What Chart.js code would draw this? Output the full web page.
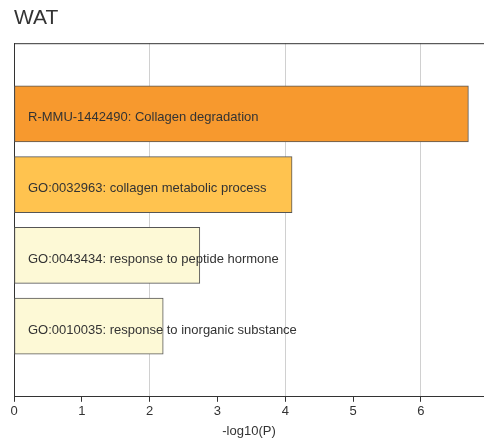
<!DOCTYPE html>
<html>
<head>
<meta charset="utf-8">
<script src="https://cdn.jsdelivr.net/npm/chart.js@4"></script>
<style>
  body { margin: 0; background: #fff; }
  #wrap { width: 484px; height: 444px; }
</style>
</head>
<body>
<div id="wrap"><canvas id="chart"></canvas></div>
<script>
// data
const terms = [
    'R-MMU-1442490: Collagen degradation',
    'GO:0032963: collagen metabolic process',
    'GO:0043434: response to peptide hormone',
    'GO:0010035: response to inorganic substance'
];
const logP = [6.70, 4.10, 2.74, 2.20];
const barColors = ['#F7992E', '#FFC34F', '#FDF9D6', '#FDF9D6'];
const xTicks = [0, 1, 2, 3, 4, 5, 6];
const xMax = 6.93;

// empty slots top and bottom so the bars sit like the original
const labels = [''].concat(terms, ['']);
const values = [null].concat(logP, [null]);
const colors = ['#fff'].concat(barColors, ['#fff']);

const txt = '#333333';
const font = 'Liberation Sans, Arial, sans-serif';

const termLabels = {
    id: 'termLabels',
    afterDatasetsDraw(chart) {
        const ctx = chart.ctx;
        const meta = chart.getDatasetMeta(0);
        ctx.save();
        ctx.fillStyle = txt;
        ctx.font = '13px ' + font;
        ctx.textBaseline = 'middle';
        meta.data.forEach((bar, i) => {
            if (values[i] == null) return;
            ctx.fillText(labels[i], chart.chartArea.left + 14, bar.y + 4);
        });
        ctx.restore();
    }
};

const topLine = {
    id: 'topLine',
    afterDraw(chart) {
        const a = chart.chartArea, ctx = chart.ctx;
        ctx.save();
        ctx.strokeStyle = txt;
        ctx.lineWidth = 1;
        ctx.beginPath();
        ctx.moveTo(a.left, a.top + 0.5);
        ctx.lineTo(chart.width, a.top + 0.5);
        ctx.stroke();
        ctx.restore();
    }
};

new Chart(document.getElementById('chart'), {
    type: 'bar',
    data: {
        labels: labels,
        datasets: [{
            data: values,
            backgroundColor: colors,
            borderColor: '#555555',
            borderWidth: 1,
            borderSkipped: false,
            barThickness: 56
        }]
    },
    plugins: [termLabels, topLine],
    options: {
        indexAxis: 'y',
        responsive: true,
        maintainAspectRatio: false,
        animation: false,
        layout: { padding: { left: 14, right: 0, top: 0, bottom: 5 } },
        plugins: {
            legend: { display: false },
            tooltip: { enabled: false },
            title: {
                display: true,
                text: 'WAT',
                align: 'start',
                color: txt,
                font: { family: font, size: 21, weight: 'normal' },
                padding: { top: 6, bottom: 12 }
            }
        },
        scales: {
            x: {
                min: 0,
                max: xMax,
                afterBuildTicks(scale) {
                    scale.ticks = xTicks.map(v => ({ value: v }));
                },
                grid: {
                    color: c => (c.tick && c.tick.value > 0 && c.tick.value % 2 === 0) ? '#d0d0d0' : 'rgba(0,0,0,0)',
                    tickColor: txt,
                    tickLength: 5
                },
                border: { color: txt, width: 1 },
                ticks: { color: txt, font: { family: font, size: 13 }, padding: 2 },
                title: {
                    display: true,
                    text: '-log10(P)',
                    color: txt,
                    font: { family: font, size: 13 },
                    padding: { top: 2, bottom: 0 }
                }
            },
            y: {
                offset: false,
                afterFit(scale) { scale.width = 0; },
                grid: { display: false },
                border: { color: txt, width: 1 },
                ticks: { display: false }
            }
        }
    }
});
</script>
</body>
</html>
